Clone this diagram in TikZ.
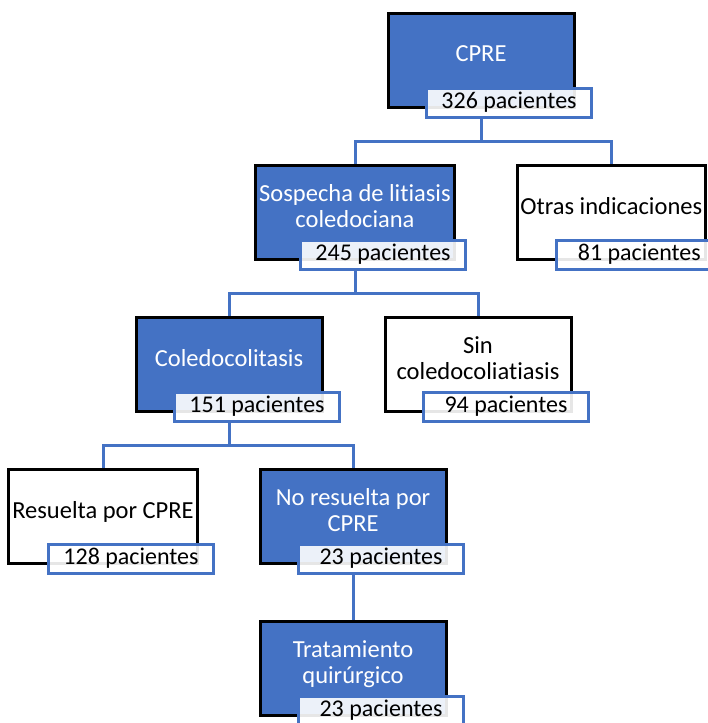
\documentclass[tikz,border=0pt]{standalone}
\usepackage{fontspec}
\setmainfont{Carlito}[Ligatures={NoCommon}]
\usetikzlibrary{positioning, calc}
\definecolor{azul}{HTML}{4472C4}

\begin{document}
\begin{tikzpicture}[
    node distance=55pt and 60pt,
    caja/.style={rectangle, draw=black, line width=3pt, minimum width=186pt,
                 minimum height=94pt, align=center, text depth=12pt,
                 font=\fontsize{24.5}{26}\selectfont},
    activa/.style={caja, fill=azul, text=white},
    inactiva/.style={caja, fill=white, text=black},
    cifra/.style={rectangle, draw=azul, line width=3pt, fill=white,
                  fill opacity=0.9, text opacity=1, minimum width=165pt,
                  minimum height=29pt, inner sep=0pt,
                  font=\fontsize{24}{26}\selectfont},
    rama/.style={draw=azul, line width=3pt}
]
\useasboundingbox (0,0) rectangle (707pt,-723pt);

% Cajas
\node[activa] (cpre) at (481pt,-60pt) {CPRE};
\node[activa, below=of cpre, xshift=-126pt] (sosp) {Sospecha de litiasis\\coledociana};
\node[inactiva, right=of sosp] (otras) {Otras indicaciones};
\node[activa, below=of sosp, xshift=-126pt] (coledo) {Coledocolitasis};
\node[inactiva, right=of coledo] (sin) {Sin\\coledocoliatiasis};
\node[inactiva, below=of coledo, xshift=-126pt] (resuelta) {Resuelta por CPRE};
\node[activa, right=of resuelta] (nores) {No resuelta por\\CPRE};
\node[activa, below=of nores] (trat) {Tratamiento\\quirúrgico};

% Pacientes
\node[cifra] (n1) at ([xshift=28pt, yshift=6pt]cpre.south) {326 pacientes};
\node[cifra] (n2) at ([xshift=28pt, yshift=6pt]sosp.south) {245 pacientes};
\node[cifra] (n3) at ([xshift=28pt, yshift=6pt]otras.south) {81 pacientes};
\node[cifra] (n4) at ([xshift=28pt, yshift=6pt]coledo.south) {151 pacientes};
\node[cifra] (n5) at ([xshift=28pt, yshift=6pt]sin.south) {94 pacientes};
\node[cifra] (n6) at ([xshift=28pt, yshift=6pt]resuelta.south) {128 pacientes};
\node[cifra] (n7) at ([xshift=28pt, yshift=6pt]nores.south) {23 pacientes};
\node[cifra] (n8) at ([xshift=28pt, yshift=6pt]trat.south) {23 pacientes};

% Ramas
\draw[rama] (cpre.south |- n1.south) |- ($(n1.south)!.5!(sosp.north)$) -| (sosp.north);
\draw[rama] (cpre.south |- n1.south) |- ($(n1.south)!.5!(otras.north)$) -| (otras.north);
\draw[rama] (sosp.south |- n2.south) |- ($(n2.south)!.5!(coledo.north)$) -| (coledo.north);
\draw[rama] (sosp.south |- n2.south) |- ($(n2.south)!.5!(sin.north)$) -| (sin.north);
\draw[rama] (coledo.south |- n4.south) |- ($(n4.south)!.5!(resuelta.north)$) -| (resuelta.north);
\draw[rama] (coledo.south |- n4.south) |- ($(n4.south)!.5!(nores.north)$) -| (nores.north);
\draw[rama] (nores.south |- n7.south) -- (trat.north);

\end{tikzpicture}
\end{document}
